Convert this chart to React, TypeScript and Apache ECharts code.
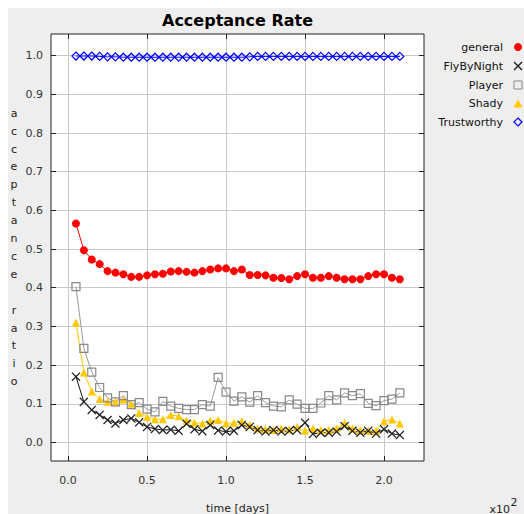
import React, { useEffect, useRef } from "react";
import * as echarts from "echarts";

// time in days (axis labels are shown in units of 10^2 days)
const days = [5, 10, 15, 20, 25, 30, 35, 40, 45, 50, 55, 60, 65, 70, 75, 80, 85, 90, 95, 100, 105, 110, 115, 120, 125, 130, 135, 140, 145, 150, 155, 160, 165, 170, 175, 180, 185, 190, 195, 200, 205, 210];

const general = [0.566, 0.497, 0.473, 0.461, 0.443, 0.439, 0.435, 0.428, 0.428, 0.432, 0.435, 0.436, 0.442, 0.443, 0.441, 0.439, 0.443, 0.447, 0.450, 0.450, 0.443, 0.447, 0.433, 0.433, 0.432, 0.426, 0.425, 0.422, 0.430, 0.435, 0.426, 0.426, 0.430, 0.426, 0.422, 0.422, 0.422, 0.430, 0.435, 0.435, 0.426, 0.422];

const flyByNight = [0.170, 0.105, 0.084, 0.071, 0.058, 0.049, 0.058, 0.062, 0.052, 0.040, 0.035, 0.032, 0.033, 0.030, 0.048, 0.034, 0.029, 0.045, 0.031, 0.028, 0.030, 0.045, 0.040, 0.032, 0.028, 0.032, 0.028, 0.030, 0.032, 0.051, 0.022, 0.025, 0.025, 0.028, 0.042, 0.030, 0.025, 0.030, 0.023, 0.034, 0.023, 0.019];

const player = [0.403, 0.243, 0.182, 0.142, 0.115, 0.105, 0.121, 0.098, 0.103, 0.086, 0.079, 0.106, 0.094, 0.088, 0.085, 0.085, 0.098, 0.094, 0.168, 0.130, 0.107, 0.118, 0.104, 0.121, 0.103, 0.094, 0.092, 0.110, 0.099, 0.088, 0.088, 0.102, 0.121, 0.110, 0.128, 0.121, 0.126, 0.101, 0.095, 0.108, 0.112, 0.128];

const shady = [0.310, 0.181, 0.132, 0.112, 0.105, 0.105, 0.111, 0.100, 0.076, 0.066, 0.060, 0.060, 0.071, 0.068, 0.056, 0.051, 0.049, 0.056, 0.058, 0.049, 0.051, 0.055, 0.045, 0.036, 0.034, 0.032, 0.036, 0.034, 0.040, 0.030, 0.036, 0.032, 0.032, 0.036, 0.051, 0.036, 0.032, 0.030, 0.030, 0.055, 0.059, 0.049];

const trustworthy = [0.999, 0.999, 0.999, 0.998, 0.997, 0.997, 0.996, 0.996, 0.996, 0.996, 0.996, 0.996, 0.996, 0.996, 0.996, 0.996, 0.996, 0.996, 0.996, 0.996, 0.996, 0.996, 0.997, 0.998, 0.998, 0.998, 0.998, 0.998, 0.998, 0.998, 0.998, 0.998, 0.998, 0.998, 0.998, 0.998, 0.998, 0.998, 0.998, 0.998, 0.998, 0.998];

const xTicks = [0, 50, 100, 150, 200];
const yTicks = [0.0, 0.1, 0.2, 0.3, 0.4, 0.5, 0.6, 0.7, 0.8, 0.9, 1.0];

const seriesNames = ["general", "FlyByNight", "Player", "Shady", "Trustworthy"];
const seriesColors = ["#ff0000", "#222222", "#888888", "#ffc800", "#0000ff"];

const X_SYMBOL = "path://M0,1L1,0L5,4L9,0L10,1L6,5L10,9L9,10L5,6L1,10L0,9L4,5Z";

const FONT = "DejaVu Sans";

function pairs(vals: number[]) {
  return days.map((d, i) => [d, vals[i]]);
}

function legendGraphics() {
  const rowsY = [39, 58, 77, 95.5, 114];
  const textX = 495;
  const cx = 510;
  const out: any[] = [];
  seriesNames.forEach((name, i) => {
    const y = rowsY[i];
    out.push({
      type: "text",
      x: textX,
      y,
      style: { text: name, fontSize: 11, fontFamily: FONT, fill: "#111", textAlign: "right", textVerticalAlign: "middle" },
    });
    const c = seriesColors[i];
    if (i === 0) {
      out.push({ type: "circle", shape: { cx, cy: y, r: 4 }, style: { fill: c } });
    } else if (i === 1) {
      out.push({ type: "line", shape: { x1: cx - 4, y1: y - 4, x2: cx + 4, y2: y + 4 }, style: { stroke: c, lineWidth: 1.5 } });
      out.push({ type: "line", shape: { x1: cx - 4, y1: y + 4, x2: cx + 4, y2: y - 4 }, style: { stroke: c, lineWidth: 1.5 } });
    } else if (i === 2) {
      out.push({ type: "rect", shape: { x: cx - 4, y: y - 4, width: 8, height: 8 }, style: { fill: "none", stroke: c, lineWidth: 1 } });
    } else if (i === 3) {
      out.push({ type: "polygon", shape: { points: [[cx, y - 4], [cx + 4.5, y + 4], [cx - 4.5, y + 4]] }, style: { fill: c } });
    } else {
      out.push({ type: "polygon", shape: { points: [[cx, y - 4], [cx + 4, y], [cx, y + 4], [cx - 4, y]] }, style: { fill: "none", stroke: c, lineWidth: 1.2 } });
    }
  });
  return out;
}

export default function App() {
  const ref = useRef<HTMLDivElement>(null);
  useEffect(() => {
    if (!ref.current) return;
    const chart = echarts.init(ref.current, null, { renderer: "svg" });
    const xMin = -10.8;
    const xMax = 225.3;
    const yMin = -0.048;
    const yMax = 1.056;
    const tickStyle = { show: true, inside: true, length: 5, lineStyle: { color: "#222", width: 1 } };
    const option: any = {
      animation: false,
      backgroundColor: "#eeeeee",
      grid: {
        left: 43,
        top: 26,
        width: 373,
        height: 427,
        show: true,
        backgroundColor: "#ffffff",
        borderColor: "#222",
        borderWidth: 1,
      },
      xAxis: [
        {
          type: "value",
          min: xMin,
          max: xMax,
          position: "bottom",
          axisLine: { show: false, onZero: false },
          axisTick: { ...tickStyle, customValues: xTicks },
          axisLabel: {
            customValues: xTicks,
            formatter: (v: number) => (v / 100).toFixed(1),
            color: "#333",
            fontSize: 11,
            fontFamily: FONT,
            margin: 14,
          },
          splitLine: { show: true, lineStyle: { color: "#c8c8c8", width: 1 } },
        },
        {
          type: "value",
          min: xMin,
          max: xMax,
          position: "top",
          axisLine: { show: false, onZero: false },
          axisTick: { ...tickStyle, customValues: xTicks },
          axisLabel: { show: false },
          splitLine: { show: false },
        },
      ],
      yAxis: [
        {
          type: "value",
          min: yMin,
          max: yMax,
          position: "left",
          axisLine: { show: false, onZero: false },
          axisTick: { ...tickStyle, customValues: yTicks },
          axisLabel: {
            customValues: yTicks,
            formatter: (v: number) => v.toFixed(1),
            color: "#333",
            fontSize: 11,
            fontFamily: FONT,
            margin: 8,
          },
          splitLine: { show: true, lineStyle: { color: "#c8c8c8", width: 1 } },
        },
        {
          type: "value",
          min: yMin,
          max: yMax,
          position: "right",
          axisLine: { show: false, onZero: false },
          axisTick: { ...tickStyle, customValues: yTicks },
          axisLabel: { show: false },
          splitLine: { show: false },
        },
      ],
      series: [
        {
          name: seriesNames[3],
          type: "line",
          data: pairs(shady),
          symbol: "triangle",
          symbolSize: 8,
          itemStyle: { color: seriesColors[3] },
          lineStyle: { color: seriesColors[3], width: 1 },
        },
        {
          name: seriesNames[2],
          type: "line",
          data: pairs(player),
          symbol: "rect",
          symbolSize: 8,
          itemStyle: { color: "rgba(0,0,0,0)", borderColor: seriesColors[2], borderWidth: 1.2 },
          lineStyle: { color: "#999", width: 1 },
        },
        {
          name: seriesNames[1],
          type: "line",
          data: pairs(flyByNight),
          symbol: X_SYMBOL,
          symbolSize: 9,
          itemStyle: { color: seriesColors[1] },
          lineStyle: { color: "#111", width: 1 },
        },
        {
          name: seriesNames[0],
          type: "line",
          data: pairs(general),
          symbol: "circle",
          symbolSize: 8,
          itemStyle: { color: seriesColors[0] },
          lineStyle: { color: seriesColors[0], width: 1 },
        },
        {
          name: seriesNames[4],
          type: "line",
          data: pairs(trustworthy),
          symbol: "diamond",
          symbolSize: [8, 8],
          itemStyle: { color: "rgba(0,0,0,0)", borderColor: seriesColors[4], borderWidth: 1.2 },
          lineStyle: { color: seriesColors[4], width: 1 },
        },
      ],
      graphic: [
        {
          type: "text",
          x: 229.5,
          y: 12,
          style: {
            text: "Acceptance Rate",
            fontSize: 16,
            fontWeight: "bold",
            fontFamily: FONT,
            fill: "#000",
            textAlign: "center",
            textVerticalAlign: "middle",
          },
        },
        {
          type: "text",
          x: 6,
          y: 239.5,
          style: {
            text: "a\nc\nc\ne\np\nt\na\nn\nc\ne\n \nr\na\nt\ni\no",
            fontSize: 11,
            lineHeight: 17.9,
            fontFamily: FONT,
            fill: "#222",
            textAlign: "center",
            textVerticalAlign: "middle",
          },
        },
        {
          type: "text",
          x: 229.5,
          y: 500,
          style: {
            text: "time [days]",
            fontSize: 11,
            fontFamily: FONT,
            fill: "#222",
            textAlign: "center",
            textVerticalAlign: "middle",
          },
        },
        {
          type: "text",
          x: 502,
          y: 501,
          style: {
            text: "x10",
            fontSize: 11,
            fontFamily: FONT,
            fill: "#222",
            textAlign: "right",
            textVerticalAlign: "middle",
          },
        },
        {
          type: "text",
          x: 502.5,
          y: 494,
          style: {
            text: "2",
            fontSize: 11,
            fontFamily: FONT,
            fill: "#222",
            textAlign: "left",
            textVerticalAlign: "middle",
          },
        },
        ...legendGraphics(),
      ],
    };
    chart.setOption(option);
    return () => chart.dispose();
  }, []);
  return (
    <div
      ref={ref}
      style={{ position: "fixed", left: 8, top: 8, width: 516, height: 506 }}
    />
  );
}
